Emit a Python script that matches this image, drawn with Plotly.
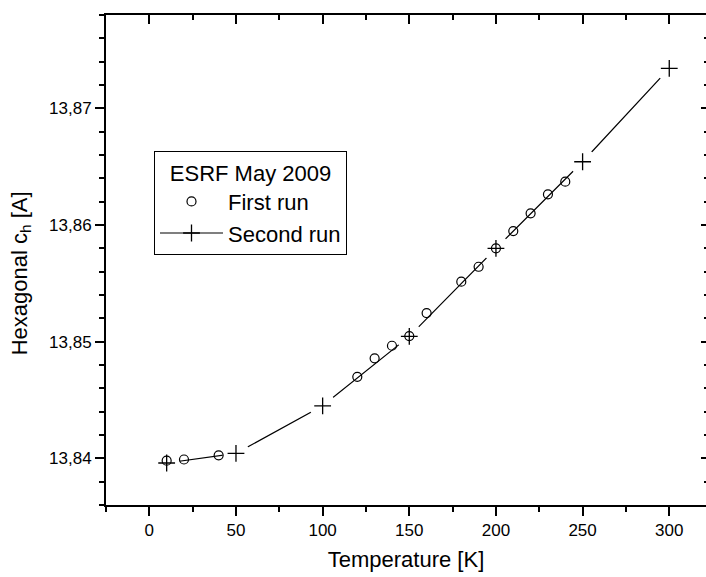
import plotly.graph_objects as go

# First run (circles)
t_first = [10, 20, 40, 120, 130, 140, 150, 160, 180, 190, 200, 210, 220, 230, 240]
c_first = [13.8398, 13.8399, 13.84026, 13.84699, 13.84857, 13.84965, 13.85048, 13.85245,
           13.85514, 13.85642, 13.8580, 13.85948, 13.8610, 13.86263, 13.86371]

# Second run (line + crosses)
t_second = [10, 50, 100, 150, 200, 250, 300]
c_second = [13.8396, 13.84043, 13.84450, 13.85045, 13.8580, 13.86542, 13.87343]

x_ticks = [0, 50, 100, 150, 200, 250, 300]
y_ticks = [13.84, 13.85, 13.86, 13.87]

FONT = "Liberation Sans, Arial, sans-serif"
x_range = [-25, 321.2]
y_range = [13.836, 13.878]

fig = go.Figure()

# second run: line with crosses (legend entry shows line + cross)
fig.add_trace(go.Scatter(
    x=t_second, y=c_second, mode="lines+markers", name="Second run",
    line=dict(color="black", width=1.2),
    marker=dict(symbol="cross-thin", size=12, line=dict(color="black", width=1.3)),
    legendrank=2,
))
# white gaps around the crosses
fig.add_trace(go.Scatter(
    x=t_second, y=c_second, mode="markers", showlegend=False, hoverinfo="skip",
    marker=dict(symbol="circle", size=27, color="#ffffff", opacity=1,
                line=dict(width=0, color="#ffffff")),
))
# first run circles
fig.add_trace(go.Scatter(
    x=t_first, y=c_first, mode="markers", name="First run",
    marker=dict(symbol="circle-open", size=9, color="black", line=dict(color="black", width=1.2)),
    legendrank=1,
))
# crosses on top
fig.add_trace(go.Scatter(
    x=t_second, y=c_second, mode="markers", showlegend=False, hoverinfo="skip",
    marker=dict(symbol="cross-thin", size=12, line=dict(color="black", width=1.3)),
))
# dummy trace to activate top/right axes
fig.add_trace(go.Scatter(x=[], y=[], xaxis="x2", yaxis="y2", showlegend=False))

axis_common = dict(color="black", linecolor="black", linewidth=2, tickwidth=2,
                   showgrid=False, zeroline=False)

fig.update_layout(
    width=706, height=577,
    margin=dict(l=106, r=0, t=15, b=72),
    paper_bgcolor="white", plot_bgcolor="white",
    separators=",.",
    font=dict(family=FONT, size=17, color="black"),
    showlegend=True,
    xaxis=dict(
        range=x_range, tickvals=x_ticks, ticks="outside", ticklen=9,
        showline=True,
        minor=dict(dtick=25, tick0=0, ticks="outside", ticklen=5, tickwidth=2, tickcolor="black"),
        tickfont=dict(size=17),
        title=dict(text="Temperature [K]", font=dict(size=22), standoff=12),
        **axis_common,
    ),
    yaxis=dict(
        range=y_range, tickvals=y_ticks, tickformat=".2f", ticks="outside", ticklen=9,
        showline=True,
        minor=dict(dtick=0.002, tick0=13.84, ticks="outside", ticklen=5, tickwidth=2, tickcolor="black"),
        tickfont=dict(size=17),
        **axis_common,
    ),
    xaxis2=dict(
        overlaying="x", side="top", range=x_range, tickvals=x_ticks, ticks="inside", ticklen=9,
        showline=True, showticklabels=False,
        minor=dict(dtick=25, tick0=0, ticks="inside", ticklen=5, tickwidth=2, tickcolor="black"),
        **axis_common,
    ),
    yaxis2=dict(
        overlaying="y", side="right", range=y_range, tickvals=y_ticks, ticks="inside", ticklen=5,
        showline=False, showticklabels=False,
        minor=dict(dtick=0.002, tick0=13.84, ticks="inside", ticklen=2, tickwidth=2, tickcolor="black"),
        **axis_common,
    ),
    legend=dict(
        x=0.08, y=0.7224, xanchor="left", yanchor="top",
        bordercolor="black", borderwidth=1, bgcolor="white",
        font=dict(size=22, family=FONT),
        title=dict(text="ESRF May 2009", side="top center", font=dict(size=22, family=FONT)),
        itemwidth=63,
    ),
    annotations=[dict(
        text="Hexagonal c<sub>h</sub> [A]", textangle=-90,
        xref="paper", yref="paper", x=(21 - 106) / 600, y=1 - (273 - 14.7) / 490,
        xanchor="center", yanchor="middle", showarrow=False,
        font=dict(size=22, family=FONT),
    )],
)

fig.write_html("out.html", config={"displayModeBar": False},
               post_script="document.body.style.margin='0';")
